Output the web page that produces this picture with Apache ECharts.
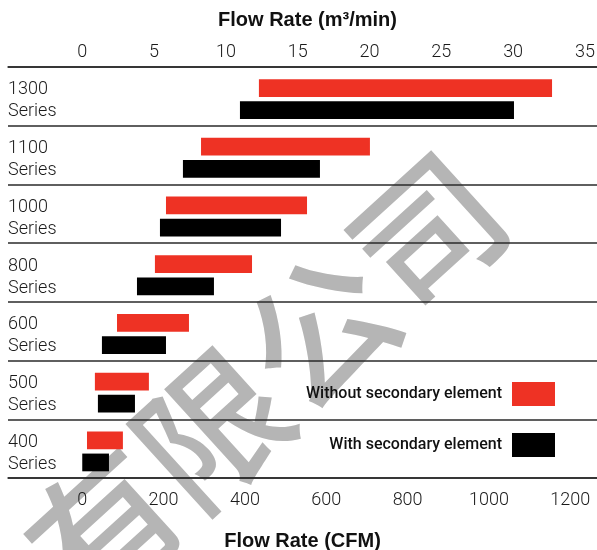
<!DOCTYPE html>
<html><head><meta charset="utf-8">
<script src="https://cdn.jsdelivr.net/npm/echarts@6/dist/echarts.min.js"></script>
<style>html,body{margin:0;padding:0;background:#fff}#c{width:597px;height:550px}</style>
</head><body><div id="c"></div>
<script>
// ---- data (flow rate ranges in m³/min) ----
const categories = ['1300', '1100', '1000', '800', '600', '500', '400'];
const withoutStart = [12.3, 8.27, 5.83, 5.06, 2.42, 0.88, 0.33];
const withoutEnd   = [32.71, 20.03, 15.65, 11.82, 7.43, 4.64, 2.83];
const withStart    = [10.98, 7.01, 5.41, 3.81, 1.37, 1.09, 0.0];
const withEnd      = [30.06, 16.55, 13.84, 9.17, 5.83, 3.67, 1.86];
const m3Ticks  = [0, 5, 10, 15, 20, 25, 30, 35];
const cfmTicks = [0, 200, 400, 600, 800, 1000, 1200];
const CFM_PER_M3 = 35.3147;
const seriesNames = ['Without secondary element', 'With secondary element'];
const watermark = '有限公司';

// ---- styling ----
const colors = ['#ee3224', '#000000'];
const lineStyle = { color: '#2a2a2a', width: 1.5 };
const thinFont = 'Roboto';
const m3Min = -5.17, m3Max = 35.84;

function makeRender(fill, offsetFrac) {
  return function (params, api) {
    const cat = api.value(0);
    const a = api.coord([api.value(1), cat]);
    const b = api.coord([api.value(2), cat]);
    const band = api.size([0, 1])[1];
    const h = band * 0.302;
    const cy = a[1] + band * offsetFrac;
    return { type: 'rect', shape: { x: a[0], y: cy - h / 2, width: b[0] - a[0], height: h }, style: { fill: fill } };
  };
}

const plain = function (v) { return String(v); };
const catText = { fontSize: 18, lineHeight: 22, color: '#1a1a1a', fontFamily: thinFont, fontWeight: 300 };

const chart = echarts.init(document.getElementById('c'), null, { renderer: 'canvas' });
chart.setOption({
  animation: false,
  backgroundColor: '#fff',
  grid: { left: 8, right: 0, top: 67, bottom: 72, containLabel: false, outerBoundsMode: 'none' },
  xAxis: [
    {
      type: 'value', position: 'top', min: m3Min, max: m3Max,
      axisLine: { show: true, lineStyle: lineStyle },
      axisTick: { show: false }, splitLine: { show: false },
      axisLabel: { customValues: m3Ticks, formatter: plain, fontSize: 18, margin: 6, color: '#1a1a1a', fontFamily: thinFont, fontWeight: 300 },
      name: 'Flow Rate (m³/min)', nameLocation: 'middle', nameGap: 37,
      nameTextStyle: { fontSize: 20, fontWeight: 'bold', color: '#111', fontFamily: 'Liberation Sans', padding: [0, 0, 0, 10] }
    },
    {
      type: 'value', position: 'bottom', min: m3Min * CFM_PER_M3, max: m3Max * CFM_PER_M3,
      axisLine: { show: true, lineStyle: lineStyle },
      axisTick: { show: false }, splitLine: { show: false },
      axisLabel: { customValues: cfmTicks, formatter: plain, fontSize: 18, margin: 13, color: '#1a1a1a', fontFamily: thinFont, fontWeight: 300 },
      name: 'Flow Rate (CFM)', nameLocation: 'middle', nameGap: 53,
      nameTextStyle: { fontSize: 20, fontWeight: 'bold', color: '#111', fontFamily: 'Liberation Sans' }
    }
  ],
  yAxis: {
    type: 'category', data: categories, inverse: true,
    axisLine: { show: false }, axisTick: { show: false },
    splitLine: { show: true, lineStyle: lineStyle },
    axisLabel: Object.assign({
      inside: true, margin: 0, align: 'left',
      formatter: function (v) { return '{s| }\n{a|' + v + '}\n{a|Series}'; },
      rich: {
        s: { fontSize: 4, lineHeight: 9 },
        a: Object.assign({}, catText)
      }
    }, catText)
  },
  legend: {
    orient: 'vertical', right: 37, top: 377, itemWidth: 43, itemHeight: 24, itemGap: 27,
    align: 'right', selectedMode: false,
    textStyle: { fontSize: 16, fontWeight: 500, color: '#111', fontFamily: thinFont, padding: [0, 5, 0, 0] },
    data: seriesNames.map(function (n) { return { name: n, icon: 'rect' }; })
  },
  graphic: {
    elements: [{
      type: 'text', x: 266, y: 380, rotation: 0.738, z: -10, silent: true,
      style: { text: watermark, font: '500 146px "Noto Sans CJK SC"', fill: '#b5b5b5', align: 'center', verticalAlign: 'middle' }
    }]
  },
  series: [
    {
      name: seriesNames[0], type: 'custom', xAxisIndex: 0, yAxisIndex: 0,
      itemStyle: { color: colors[0] },
      encode: { x: [1, 2], y: 0 },
      renderItem: makeRender(colors[0], -0.142),
      data: categories.map(function (c, i) { return [i, withoutStart[i], withoutEnd[i]]; })
    },
    {
      name: seriesNames[1], type: 'custom', xAxisIndex: 0, yAxisIndex: 0,
      itemStyle: { color: colors[1] },
      encode: { x: [1, 2], y: 0 },
      renderItem: makeRender(colors[1], 0.235),
      data: categories.map(function (c, i) { return [i, withStart[i], withEnd[i]]; })
    }
  ]
});
</script></body></html>
